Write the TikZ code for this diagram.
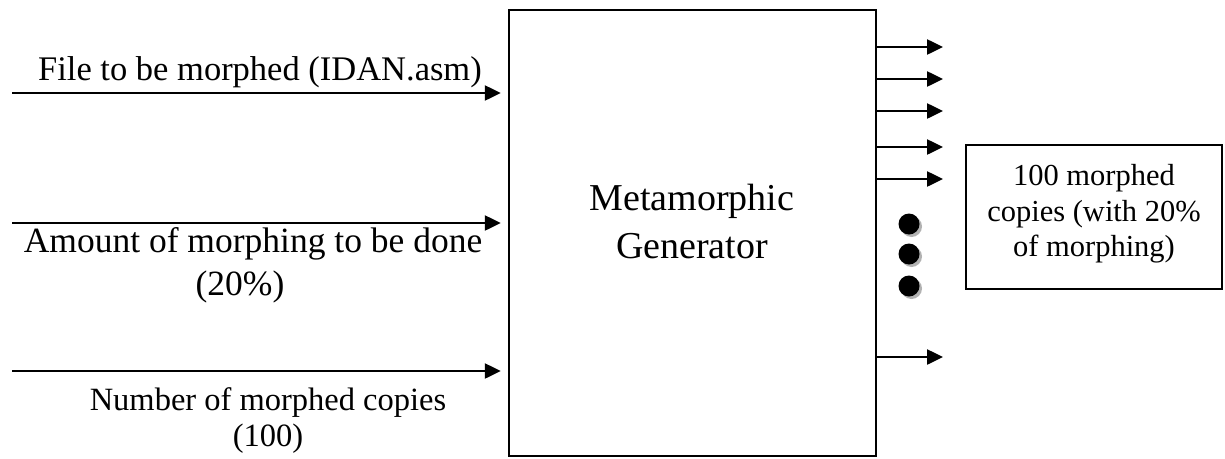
\documentclass[tikz,border=0pt]{standalone}
\usepackage{fontspec}
\setmainfont{Liberation Serif}
\usetikzlibrary{arrows.meta}
\begin{document}
\begin{tikzpicture}[x=1pt,y=-1pt,
  box/.style={draw, line width=2.5pt, inner sep=0pt},
  arr/.style={line width=2.5pt, -{Triangle[length=16pt,width=15pt]}},
  lbl/.style={inner sep=0pt, anchor=center},
  dotn/.style={circle, fill=black, minimum size=21pt, inner sep=0pt},
  shadowc/.style={fill=black!30}]
\useasboundingbox (0,0) rectangle (1225,458);
% main box
\node[box, minimum width=367pt, minimum height=446pt] (gen) at (692.5,233) {};
\node[font=\fontsize{38}{48}\selectfont, align=center, inner sep=0pt] (gtext) at (692,221) {Metamorphic\\Generator};
% inputs
\coordinate (i1) at (12,93);
\coordinate (i2) at (12,223);
\coordinate (i3) at (12,371);
\draw[arr, shorten >=7pt] (i1) -- (i1 -| gen.west);
\draw[arr, shorten >=7pt] (i2) -- (i2 -| gen.west);
\draw[arr, shorten >=7pt] (i3) -- (i3 -| gen.west);
\node[lbl, font=\fontsize{34.5}{40}\selectfont] (l1) at (260,72) {File to be morphed (IDAN.asm)};
\node[lbl, font=\fontsize{35.5}{40}\selectfont] (l2a) at (253,244) {Amount of morphing to be done};
\node[lbl, font=\fontsize{35.5}{40}\selectfont] (l2b) at (240,287) {(20\%)};
\node[lbl, font=\fontsize{32.5}{40}\selectfont] (l3a) at (268,403) {Number of morphed copies};
\node[lbl, font=\fontsize{32.5}{40}\selectfont] (l3b) at (268,439) {(100)};
% outputs
\foreach \n/\y in {1/47,2/79,3/111,4/147,5/179,6/357}{
  \coordinate (o\n) at (943,\y);
  \draw[arr] (gen.east |- o\n) -- (o\n);
}
% dots
\foreach \n/\y in {1/224,2/254,3/286}{
  \fill[shadowc] (911.5,\y+2.5) circle (10.5pt);
  \node[dotn] (d\n) at (909,\y) {};
}
% result box
\node[box, minimum width=256pt, minimum height=144pt] (out) at (1094,217) {};
\node[align=center, inner sep=0pt, font=\fontsize{30.5}{35.5}\selectfont] (outtext) at (1094,214)
  {100 morphed\\copies (with 20\%\\of morphing)};
\end{tikzpicture}
\end{document}
